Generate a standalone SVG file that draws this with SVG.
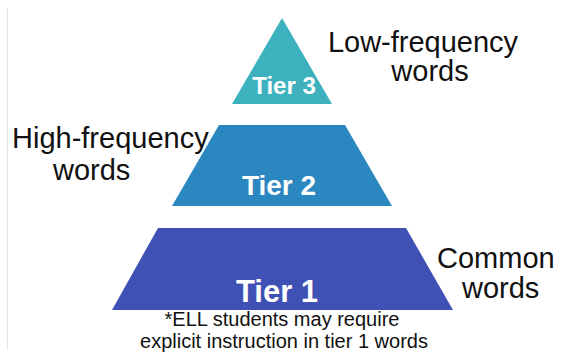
<svg xmlns="http://www.w3.org/2000/svg" width="561" height="356" viewBox="0 0 561 356">
<style>
.lbl{font-family:"Liberation Sans",Arial,sans-serif;font-size:29px;fill:#111;}
.tier{font-family:"Liberation Sans",Arial,sans-serif;font-weight:bold;fill:#fff;text-anchor:middle;}
.note{font-family:"Liberation Sans",Arial,sans-serif;font-size:20px;fill:#111;text-anchor:middle;}
</style>
<rect width="561" height="356" fill="#fff"/>
<line x1="7.5" y1="8" x2="7.5" y2="350" stroke="#e4e4e4" stroke-width="1"/>
<g id="tier3">
<polygon points="282,18 332,104 232,104" fill="#3db2be"/>
<text class="tier" x="284" y="94" font-size="24">Tier 3</text>
</g>
<g id="tier2">
<polygon points="219,125 345,125 392,206 172,206" fill="#2b87c0"/>
<text class="tier" x="279" y="195" font-size="28">Tier 2</text>
</g>
<g id="tier1">
<polygon points="158,228 406,228 453,310 112,310" fill="#3f51b5"/>
<text class="tier" x="277" y="302" font-size="31">Tier 1</text>
</g>
<g id="label-low">
<text class="lbl" x="423" y="52" text-anchor="middle">Low-frequency</text>
<text class="lbl" x="430" y="81" text-anchor="middle">words</text>
</g>
<g id="label-high">
<text class="lbl" x="12" y="148">High-frequency</text>
<text class="lbl" x="53" y="180">words</text>
</g>
<g id="label-common">
<text class="lbl" x="437" y="268">Common</text>
<text class="lbl" x="462" y="298">words</text>
</g>
<g id="note">
<text class="note" x="282" y="326">*ELL students may require</text>
<text class="note" x="284" y="348">explicit instruction in tier 1 words</text>
</g>
<g id="connectors"/>
</svg>
